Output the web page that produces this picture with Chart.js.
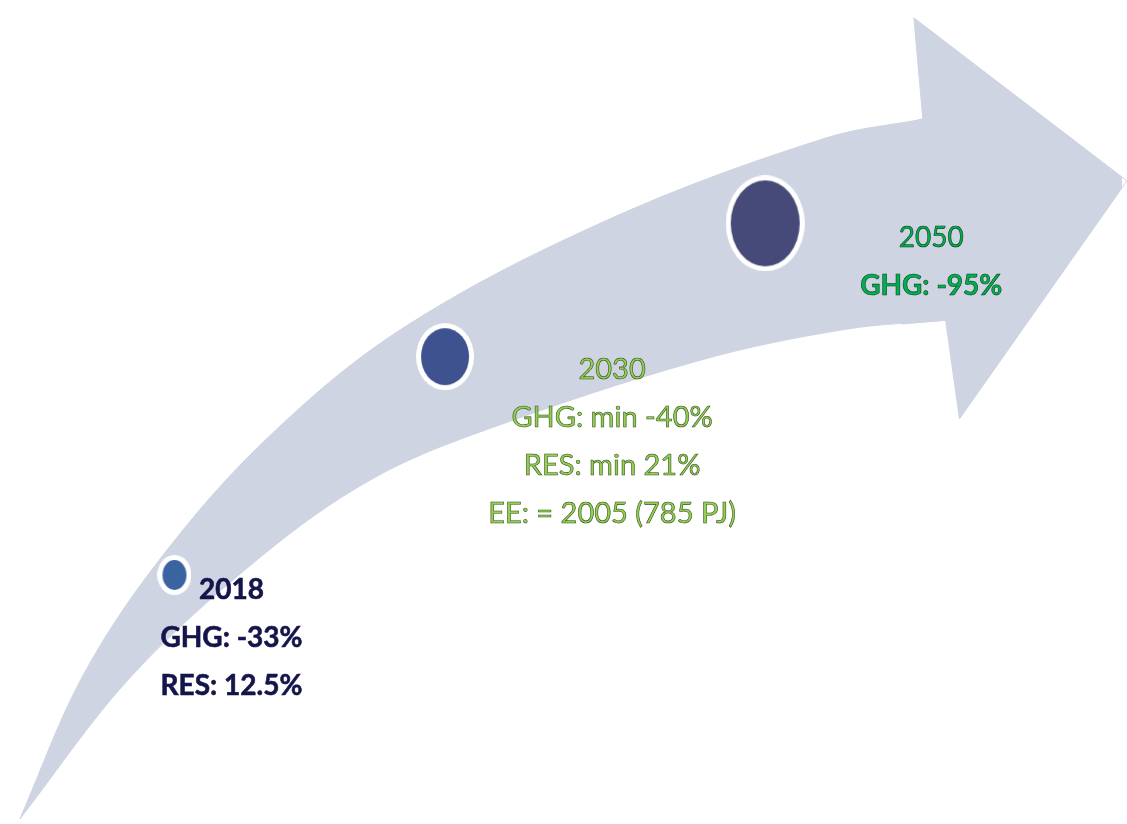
<!doctype html>
<html>

<head>
	<script src="https://cdn.jsdelivr.net/npm/chart.js@4.4.1/dist/chart.umd.min.js"></script>
	<style>
	body {
		margin: 0;
		background: #fff;
	}
	canvas {
		display: block;
	}
	</style>
</head>

<body>
	<canvas id="roadmap" width="1127" height="824"></canvas>
	<script>
		// milestones and their targets
		var years = ['2018', '2030', '2050'];
		var ghgTargets = ['-33%', 'min -40%', '-95%'];
		var resTargets = ['12.5%', 'min 21%', null];
		var eeTargets = [null, '= 2005 (785 PJ)', null];

		// page layout (pixel space of the hidden axes)
		var dotPos = [{x: 171, y: 577}, {x: 444, y: 356}, {x: 767, y: 221}];
		var dotSize = [[34, 40], [58, 67], [79, 96]];
		var dotColors = ['#3a64a0', '#3f5290', '#464a78'];
		var textAnchor = [{dx: 57, dy: 24}, {dx: 167, dy: 22}, {dx: 166, dy: 24}];

		// arrow outline
		var upperEdge = [
			{x: 15, y: 824}, {x: 78, y: 680}, {x: 157, y: 560}, {x: 263, y: 440},
			{x: 400, y: 328}, {x: 607, y: 218}, {x: 827, y: 135}, {x: 929, y: 115}
		];
		var lowerEdge = [
			{x: 15, y: 824}, {x: 127, y: 680}, {x: 260, y: 557}, {x: 370, y: 480},
			{x: 480, y: 432}, {x: 700, y: 360}, {x: 850, y: 328}, {x: 952, y: 319}
		];
		var arrowHead = [
			{x: 926, y: 115}, {x: 917, y: 13}, {x: 1132, y: 178},
			{x: 963, y: 419}, {x: 949, y: 319}, {x: 905, y: 323},
			{x: 905, y: 122}, {x: 926, y: 115}
		];
		var arrowColor = '#cfd4e2';

		function makeDot(w, h, color) {
			var c = document.createElement('canvas');
			c.width = w;
			c.height = h;
			var g = c.getContext('2d');
			g.fillStyle = '#ffffff';
			g.beginPath();
			g.ellipse(w / 2, h / 2, w / 2, h / 2, 0, 0, Math.PI * 2);
			g.fill();
			g.fillStyle = color;
			g.beginPath();
			g.ellipse(w / 2, h / 2, w / 2 - 5, h / 2 - 5, 0, 0, Math.PI * 2);
			g.fill();
			return c;
		}

		var textStyles = [
			{color: '#14154a', stroke: '#14154a', width: 0.6, fonts: ['bold 28px Lato', 'bold 28px Lato', 'bold 28px Lato']},
			{color: '#92d050', stroke: '#35511c', width: 0.6, fonts: ['29px Lato', '29px Lato', '29px Lato', '29px Lato']},
			{color: '#00b050', stroke: '#0c3a1c', width: 0.6, fonts: ['28px Lato', 'bold 28px Lato']}
		];

		function milestoneLines(i) {
			var lines = [years[i], 'GHG: ' + ghgTargets[i]];
			if (resTargets[i]) lines.push('RES: ' + resTargets[i]);
			if (eeTargets[i]) lines.push('EE: ' + eeTargets[i]);
			return lines;
		}

		var labelPlugin = {
			id: 'milestoneLabels',
			afterDatasetsDraw: function(chart) {
				var ctx = chart.ctx;
				var xs = chart.scales.x, ys = chart.scales.y;
				ctx.save();
				ctx.textAlign = 'center';
				ctx.textBaseline = 'alphabetic';
				years.forEach(function(y, i) {
					var cx = xs.getPixelForValue(dotPos[i].x) + textAnchor[i].dx;
					var cy = ys.getPixelForValue(dotPos[i].y) + textAnchor[i].dy;
					var st = textStyles[i];
					milestoneLines(i).forEach(function(line, k) {
						ctx.font = st.fonts[k];
						ctx.fillStyle = st.color;
						ctx.fillText(line, cx, cy + k * 48);
						ctx.lineWidth = st.width;
						ctx.strokeStyle = st.stroke;
						ctx.strokeText(line, cx, cy + k * 48);
					});
				});
				ctx.restore();
			}
		};

		var config = {
			type: 'scatter',
			data: {
				datasets: [{
					label: 'upper',
					data: upperEdge,
					showLine: true,
					tension: 0.35,
					borderColor: arrowColor,
					borderWidth: 1,
					backgroundColor: arrowColor,
					pointRadius: 0,
					fill: '+1',
					order: 2
				}, {
					label: 'lower',
					data: lowerEdge,
					showLine: true,
					tension: 0.35,
					borderColor: arrowColor,
					borderWidth: 1,
					pointRadius: 0,
					fill: false,
					order: 2
				}, {
					label: 'head',
					data: arrowHead,
					showLine: true,
					tension: 0,
					borderColor: arrowColor,
					borderWidth: 1,
					backgroundColor: arrowColor,
					pointRadius: 0,
					fill: 'shape',
					order: 1,
					clip: false
				}, {
					label: 'milestones',
					data: dotPos,
					showLine: false,
					pointStyle: dotSize.map(function(s, i) {
						return makeDot(s[0], s[1], dotColors[i]);
					}),
					order: 0
				}]
			},
			options: {
				responsive: false,
				animation: false,
				events: [],
				layout: {padding: 0},
				elements: {line: {capBezierPoints: false}},
				scales: {
					x: {type: 'linear', min: 0, max: 1127, display: false},
					y: {type: 'linear', min: 0, max: 824, reverse: true, display: false}
				},
				plugins: {
					legend: {display: false},
					tooltip: {enabled: false}
				}
			},
			plugins: [labelPlugin]
		};

		window.onload = function() {
			var ctx = document.getElementById('roadmap').getContext('2d');
			window.myRoadmap = new Chart(ctx, config);
		};
	</script>
</body>

</html>
